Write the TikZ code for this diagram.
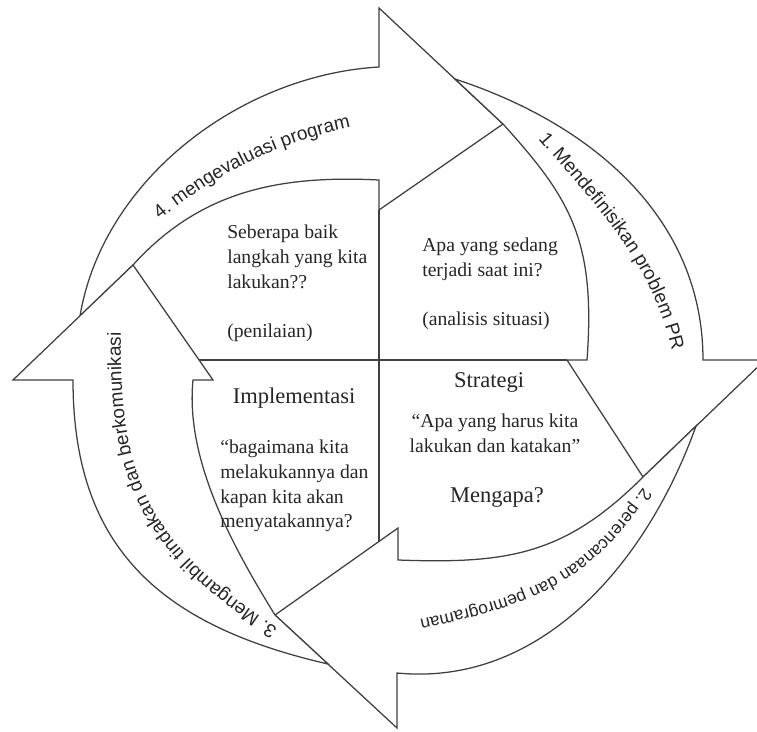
\documentclass[tikz,border=0pt]{standalone}
\usepackage{fontspec}
\setmainfont{Liberation Serif}
\setsansfont{Liberation Sans}
\usetikzlibrary{decorations.text}

\tikzset{
  band/.style={draw=black!75, line width=0.9pt, fill=white},
  divider/.style={draw=black!75, line width=0.9pt},
  blocktext/.style={inner sep=0pt, text=black!85, font=\fontsize{14}{17.6}\selectfont},
  headtext/.style={blocktext, font=\fontsize{16}{19}\selectfont},
  bandlabel/.style={decorate, decoration={text along path, text align=left, text color=black!85}},
}
\newcommand{\bandfont}{\fontsize{13.5}{16}\sffamily\selectfont}

\begin{document}
\begin{tikzpicture}[x=0.025cm, y=-0.025cm]
\useasboundingbox (0,0) rectangle (757,731);
\clip (0,0) rectangle (757,731);

% heads: outer barb, tip, inner barb
\coordinate (h4o) at (379,8);   \coordinate (h4t) at (503,124); \coordinate (h4i) at (379,210);
\coordinate (h1o) at (765,360); \coordinate (h1t) at (643,477); \coordinate (h1i) at (567,360);
\coordinate (h2o) at (397,728); \coordinate (h2t) at (275,615); \coordinate (h2i) at (398,528);
\coordinate (h3o) at (13,380);  \coordinate (h3t) at (133,265); \coordinate (h3i) at (213,380);
% where the bands meet their heads
\coordinate (b4o) at (379,67);  \coordinate (b4i) at (379,180);
\coordinate (b1o) at (703,360); \coordinate (b1i) at (587,360);
\coordinate (b2o) at (397,673); \coordinate (b2i) at (398,560);
\coordinate (b3o) at (73,380);  \coordinate (b3i) at (193,380);
% tails, cut along the head in front
\coordinate (t4) at (80,316);
\coordinate (t1) at (455,79);
\coordinate (t2) at (696,426);
\coordinate (t3) at (328,664);
% ends of the cross
\coordinate (vbot) at (379,541);
\coordinate (hleft) at (199,360);

% 4 -> top
\path[band] (t4) -- (h3t) .. controls (200,191) and (279,175) .. (b4i) -- (h4i) -- (h4t) -- (h4o)
  -- (b4o) .. controls (241,75) and (103,179) .. (t4) -- cycle;
% 1 -> right
\path[band] (t1) -- (h4t) .. controls (570,198) and (596,240) .. (b1i) -- (h1i) -- (h1t) -- (h1o)
  -- (b1o) .. controls (703,222) and (598,126) .. (t1) -- cycle;
% 2 -> bottom
\path[band] (t2) -- (h1t) .. controls (565,555) and (508,564) .. (b2i) -- (h2i) -- (h2t) -- (h2o)
  -- (b2o) .. controls (541,687) and (647,563) .. (t2) -- cycle;
% 3 -> left
\path[band] (t3) -- (h2t) .. controls (233,547) and (185,460) .. (b3i) -- (h3i) -- (h3t) -- (h3o)
  -- (b3o) .. controls (73,550) and (163,626) .. (t3) -- cycle;

\draw[divider] (h4i) -- (vbot);
\draw[divider] (hleft) -- (h1i);

% labels on the bands
\path[bandlabel, decoration={text={|\bandfont|4. mengevaluasi program}}]
  (160,220) .. controls (214,175) and (280,140) .. (362,125);
\path[bandlabel, decoration={text={|\bandfont|1. Mendefinisikan problem PR}}]
  (538,139) .. controls (604,215) and (661,271) .. (678,380);
\path[bandlabel, decoration={text={|\fontsize{12.4}{15}\sffamily\selectfont|2. perencanaan dan pemrograman}}]
  (643,487) .. controls (579,582) and (523,598) .. (400,624);
\path[bandlabel, decoration={text={|\bandfont|3. Mengambil tindakan dan berkomunikasi}}]
  (278,628) .. controls (140,540) and (115,470) .. (122,300);

% quarters
\node[blocktext, anchor=north west, align=left] (penilaian) at (227,224.6)
  {Seberapa baik\\langkah yang kita\\lakukan??\\[17.6pt](penilaian)};
\node[blocktext, anchor=north west, align=left] (analisis) at (422,237.6)
  {Apa yang sedang\\terjadi saat ini?\\[17.6pt](analisis situasi)};
\node[headtext, anchor=base] (impl) at (294,403) {Implementasi};
\node[blocktext, anchor=north west, align=left] (implq) at (220,439.6)
  {“bagaimana kita\\melakukannya dan\\kapan kita akan\\menyatakannya?};
\node[headtext, anchor=base] (strat) at (489,387) {Strategi};
\node[blocktext, anchor=north, align=center] (stratq) at (495,413.6)
  {“Apa yang harus kita\\lakukan dan katakan”};
\node[headtext, anchor=base] (mengapa) at (497,502) {Mengapa?};
\end{tikzpicture}
\end{document}
